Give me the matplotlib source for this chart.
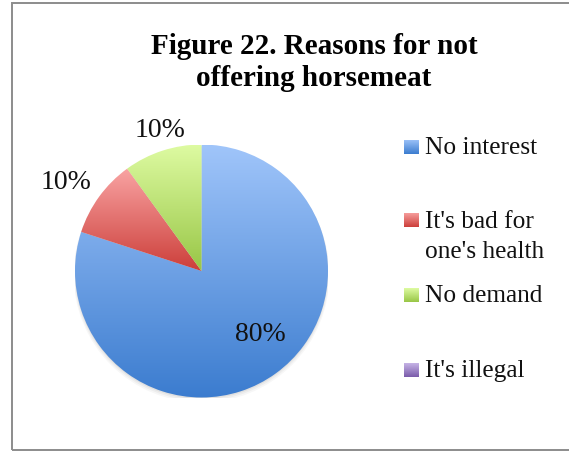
import numpy as np
import matplotlib
matplotlib.use('Agg')
import matplotlib.pyplot as plt
from matplotlib.colors import LinearSegmentedColormap
from matplotlib.patches import Rectangle, Circle

# data
categories = ['No interest', "It's bad for\none's health", 'No demand', "It's illegal"]
shares = [80, 10, 10, 0]
title = 'Figure 22. Reasons for not\noffering horsemeat'

# gradient ends (top -> bottom) for each slice
top_colors = ['#A0C5FA', '#F9A4A3', '#DEFBA2', '#C6B4E6']
bottom_colors = ['#3B7CCF', '#CC3E3A', '#98C646', '#7A5BAA']

plt.rcParams['font.family'] = ['Liberation Serif', 'DejaVu Serif']

W, H = 569, 453
fig = plt.figure(figsize=(W / 100, H / 100), dpi=100)


def fx(px):
    return px / W


def fy(py):
    return 1 - py / H


# chart area frame (open on the right)
fig.patches.append(Rectangle((fx(11.5), fy(450)), 2, fy(2.5) - fy(450),
                             transform=fig.transFigure, facecolor='none',
                             edgecolor='#8c8c8c', linewidth=1.4))

fig.text(fx(314), fy(33), title, ha='center', va='top', fontsize=21,
         fontweight='bold', linespacing=1.22)

# pie
cx, cy, r = 201.5, 271, 126.5
ax = fig.add_axes([fx(cx - r), fy(cy + r), (2 * r) / W, (2 * r) / H])
wedges, _ = ax.pie(shares, startangle=90, counterclock=False, radius=1,
                   wedgeprops=dict(facecolor='none', edgecolor='none'))

# soft shadow under the pie
for k, a in enumerate([0.05, 0.04, 0.03]):
    ax.add_patch(Circle((0, -0.012 - 0.008 * k), 1 + 0.006 * k,
                        facecolor='black', edgecolor='none', alpha=a, zorder=0))

grad = np.linspace(0, 1, 256).reshape(-1, 1)
for w, val, c0, c1 in zip(wedges, shares, top_colors, bottom_colors):
    if val == 0:
        continue
    bb = w.get_path().get_extents()
    cmap = LinearSegmentedColormap.from_list('g', [c1, c0])
    im = ax.imshow(grad, cmap=cmap, origin='lower', aspect='auto',
                   extent=[bb.x0, bb.x1, bb.y0, bb.y1], zorder=1,
                   interpolation='bilinear')
    im.set_clip_path(w)

# percentage labels, offset from the edge point at the middle of each slice
label_offsets = [(-15, 39), (-33, 14.5), (-2, 20)]
for w, val, off in zip(wedges, shares, label_offsets):
    if val == 0:
        continue
    ang = np.deg2rad((w.theta1 + w.theta2) / 2)
    ax.annotate(f'{val / sum(shares):.0%}', xy=(np.cos(ang), np.sin(ang)),
                xytext=off, textcoords='offset pixels', ha='center',
                va='center', fontsize=20, color='#111111', zorder=5)

ax.set_xlim(-1, 1)
ax.set_ylim(-1, 1)
ax.axis('off')

# legend
legend_y = [146.5, 220.5, 295, 369.5]
for name, yc, c0, c1 in zip(categories, legend_y, top_colors, bottom_colors):
    cmap = LinearSegmentedColormap.from_list('g', [c1, c0])
    sq = fig.add_axes([fx(404), fy(yc + 7), 14.5 / W, 14 / H])
    sq.imshow(grad, cmap=cmap, origin='lower', aspect='auto',
              interpolation='bilinear')
    sq.axis('off')
    for j, line in enumerate(name.split('\n')):
        fig.text(fx(425), fy(yc + 7.5 + 29.5 * j), line, ha='left',
                 va='baseline', fontsize=18.3, color='#111111')

fig.savefig('out.png', dpi=100)
